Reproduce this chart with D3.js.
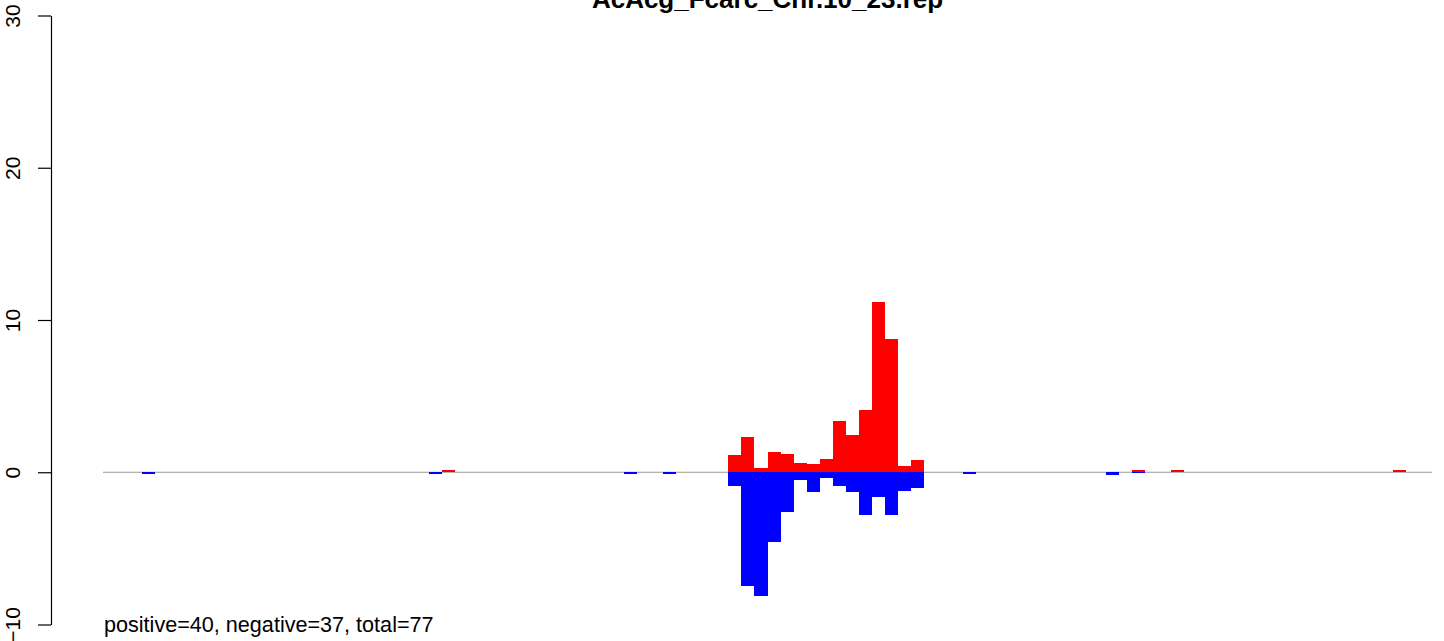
<!DOCTYPE html>
<html>
<head>
<meta charset="utf-8">
<script src="https://cdn.jsdelivr.net/npm/d3@7"></script>
<style>
  html, body { margin: 0; padding: 0; background: #fff; }
  svg { display: block; font-family: "Liberation Sans", Arial, Helvetica, sans-serif; }
</style>
</head>
<body>
<svg id="chart" width="1444" height="641"></svg>
<script>
// ---- data ----
const chartTitle = "AcAcg_Fcarc_Chr.10_23.rep";
const summaryText = "positive=40, negative=37, total=77";
const binCount = 102;
const binIndex = [3, 25, 26, 40, 43,
  48, 49, 50, 51, 52, 53, 54, 55, 56, 57, 58, 59, 60, 61, 62,
  66, 77, 79, 82, 99];
const positiveValues = [0, 0, 0.12, 0, 0,
  1.16, 2.34, 0.31, 1.36, 1.23, 0.63, 0.57, 0.90, 3.39, 2.47, 4.11, 11.2, 8.77, 0.44, 0.83,
  0, 0, 0.12, 0.12, 0.12];
const negativeValues = [-0.1, -0.1, 0, -0.1, -0.1,
  -0.88, -7.48, -8.10, -4.55, -2.58, -0.48, -1.31, -0.35, -0.92, -1.31, -2.84, -1.64, -2.84, -1.25, -1.05,
  -0.1, -0.18, -0.08, 0, 0];
const yTicks = [-10, 0, 10, 20, 30];

// ---- drawing ----
const svg = d3.select("#chart");
const x = d3.scaleLinear().domain([0, binCount]).range([103, 1432]);
const y = d3.scaleLinear().domain([-10, 30]).range([624.5, 15.5]);

const rows = binIndex.map((b, i) => ({ bin: b, pos: positiveValues[i], neg: negativeValues[i] }));

// zero line
svg.append("line")
  .attr("x1", x(0)).attr("x2", x(binCount))
  .attr("y1", y(0)).attr("y2", y(0))
  .attr("stroke", "#9a9a9a").attr("stroke-width", 1.2);

// positive bars
svg.append("g").attr("shape-rendering", "crispEdges")
  .selectAll("rect").data(rows.filter(d => d.pos > 0)).join("rect")
  .attr("x", d => x(d.bin))
  .attr("width", d => x(d.bin + 1) - x(d.bin))
  .attr("y", d => y(d.pos))
  .attr("height", d => y(0) - y(d.pos))
  .attr("fill", "#ff0000");

// negative bars
svg.append("g").attr("shape-rendering", "crispEdges")
  .selectAll("rect").data(rows.filter(d => d.neg < 0)).join("rect")
  .attr("x", d => x(d.bin))
  .attr("width", d => x(d.bin + 1) - x(d.bin))
  .attr("y", y(0))
  .attr("height", d => y(d.neg) - y(0))
  .attr("fill", "#0000ff");

// y axis
const axisG = svg.append("g").attr("transform", "translate(51,0)")
  .call(d3.axisLeft(y).tickValues(yTicks).tickSize(13).tickSizeOuter(0).tickFormat(d3.format("d")));
axisG.select(".domain").attr("stroke", "#000").attr("stroke-width", 1.2);
axisG.selectAll(".tick line").attr("stroke", "#000").attr("stroke-width", 1.2);
axisG.selectAll(".tick text").remove();
axisG.selectAll(".tick").append("text")
  .attr("transform", "translate(-31,0) rotate(-90)")
  .attr("text-anchor", "middle")
  .attr("fill", "#000")
  .style("font-size", "21px")
  .style("font-family", "'Liberation Sans', Arial, sans-serif")
  .text(d => d3.format("d")(d).replace("-", "\u2212"));

// title
svg.append("text")
  .attr("x", 767.5).attr("y", 8)
  .attr("text-anchor", "middle")
  .style("font-size", "26px").style("font-weight", "bold")
  .text(chartTitle);

// summary text
svg.append("text")
  .attr("x", 104).attr("y", 631.5)
  .style("font-size", "21.6px")
  .text(summaryText);
</script>
</body>
</html>
